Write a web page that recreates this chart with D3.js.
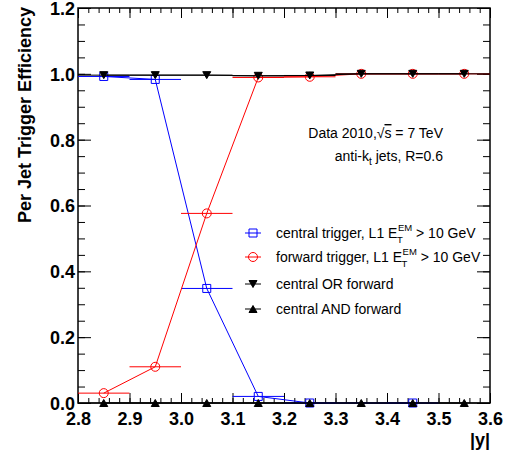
<!DOCTYPE html>
<html lang="en">
<head>
<meta charset="utf-8">
<title>Per Jet Trigger Efficiency</title>
<script src="https://d3js.org/d3.v7.min.js"></script>
<style>
  body { margin: 0; background: #fff; }
  text { font-family: "Liberation Sans", Helvetica, Arial, sans-serif; }
</style>
</head>
<body>
<svg id="chart" width="517" height="457"></svg>
<script>
// bins in |y| (centres), half width 0.05
const bins = [2.85, 2.95, 3.05, 3.15, 3.25, 3.35, 3.45, 3.55];
const halfWidth = 0.05;

// central trigger only has points where drawn
const centralX   = [2.85, 2.95, 3.05, 3.15, 3.25, 3.45];
const centralEff = [0.992, 0.983, 0.348, 0.020, 0.0, 0.0];
const forwardEff = [0.030, 0.110, 0.576, 0.989, 0.991, 1.0, 1.0, 1.0];
const orEff      = [0.996, 0.996, 0.996, 0.994, 0.995, 1.0, 1.0, 1.0];
const andEff     = [0, 0, 0, 0, 0, 0, 0, 0];

const yMajor = [0, 0.2, 0.4, 0.6, 0.8, 1.0, 1.2];
const xMajor = [2.8, 2.9, 3.0, 3.1, 3.2, 3.3, 3.4, 3.5, 3.6];

let svg = d3.select("#chart");
let pLeft = 78, pRight = 490, pTop = 8, pBottom = 403;

let x = d3.scaleLinear().domain([2.8, 3.6]).range([pLeft, pRight]);
let y = d3.scaleLinear().domain([0, 1.2]).range([pBottom, pTop]);

// minor ticks
let xMinor = d3.range(2.8, 3.6001, 0.02).map(v => +v.toFixed(2));
let yMinor = d3.range(0, 1.2001, 0.05).map(v => +v.toFixed(2));

function tickAxis(axis, g) {
  g.call(axis);
  g.select(".domain").remove();
  g.selectAll("line").attr("stroke", "#000").attr("stroke-width", 1);
}

// left axis
tickAxis(d3.axisLeft(y).tickValues(yMinor).tickSize(-7).tickFormat(""), svg.append("g").attr("transform", `translate(${pLeft},0)`));
let gy = svg.append("g").attr("transform", `translate(${pLeft},0)`);
tickAxis(d3.axisLeft(y).tickValues(yMajor).tickSize(-13).tickPadding(3).tickFormat(d3.format(".1f")), gy);
gy.selectAll("text").attr("font-size", 18).attr("font-weight", "bold").attr("fill", "#000").attr("dy", "0.36em");
// right axis
tickAxis(d3.axisRight(y).tickValues(yMinor).tickSize(-7).tickFormat(""), svg.append("g").attr("transform", `translate(${pRight},0)`));
tickAxis(d3.axisRight(y).tickValues(yMajor).tickSize(-13).tickFormat(""), svg.append("g").attr("transform", `translate(${pRight},0)`));
// bottom axis
tickAxis(d3.axisBottom(x).tickValues(xMinor).tickSize(-5).tickFormat(""), svg.append("g").attr("transform", `translate(0,${pBottom})`));
let gx = svg.append("g").attr("transform", `translate(0,${pBottom})`);
tickAxis(d3.axisBottom(x).tickValues(xMajor).tickSize(-10).tickPadding(9).tickFormat(d3.format(".1f")), gx);
gx.selectAll("text").attr("font-size", 18).attr("font-weight", "bold").attr("fill", "#000").attr("dy", "0.71em");
// top axis
tickAxis(d3.axisTop(x).tickValues(xMinor).tickSize(-5).tickFormat(""), svg.append("g").attr("transform", `translate(0,${pTop})`));
tickAxis(d3.axisTop(x).tickValues(xMajor).tickSize(-10).tickFormat(""), svg.append("g").attr("transform", `translate(0,${pTop})`));

// frame
svg.append("rect").attr("x", pLeft).attr("y", pTop).attr("width", pRight - pLeft).attr("height", pBottom - pTop)
  .attr("fill", "none").attr("stroke", "#000").attr("stroke-width", 1.5);

// titles
svg.append("text").attr("x", pRight).attr("y", 446).attr("text-anchor", "end")
  .attr("font-size", 18).attr("font-weight", "bold").text("|y|");
svg.append("text").attr("transform", `translate(31,${pTop - 1}) rotate(-90)`).attr("text-anchor", "end")
  .attr("font-size", 18).attr("font-weight", "bold").text("Per Jet Trigger Efficiency");

// marker shapes
const sq = "M-4,-4H4V4H-4Z";
const triDown = "M-4,-3.5L4,-3.5L0,3.5Z";
const triUp = "M-4,3.5L4,3.5L0,-3.5Z";

function drawSeries(xs, vals, color, marker) {
  let pts = xs.map((b, i) => ({b: b, v: vals[i]}));
  let g = svg.append("g");
  g.selectAll("line.err").data(pts).enter().append("line")
    .attr("x1", d => x(d.b - halfWidth)).attr("x2", d => x(d.b + halfWidth))
    .attr("y1", d => y(d.v)).attr("y2", d => y(d.v))
    .attr("stroke", color).attr("stroke-width", 1);
  g.append("path").datum(pts)
    .attr("d", d3.line().x(d => x(d.b)).y(d => y(d.v)))
    .attr("fill", "none").attr("stroke", color).attr("stroke-width", 1);
  let m = g.selectAll(".m").data(pts).enter();
  if (marker === "circle") {
    m.append("circle").attr("cx", d => x(d.b)).attr("cy", d => y(d.v)).attr("r", 4.5)
      .attr("fill", "none").attr("stroke", color).attr("stroke-width", 1);
  } else {
    let filled = marker !== sq;
    m.append("path").attr("d", marker)
      .attr("transform", d => `translate(${x(d.b)},${y(d.v)})`)
      .attr("fill", filled ? color : "none").attr("stroke", color).attr("stroke-width", 1);
  }
}

drawSeries(centralX, centralEff, "#0000ff", sq);
drawSeries(bins, forwardEff, "#ff0000", "circle");
drawSeries(bins, orEff, "#000", triDown);
drawSeries(bins, andEff, "#000", triUp);

// annotation
let t1 = svg.append("text").attr("x", 443).attr("y", 138).attr("text-anchor", "end").attr("font-size", 14);
t1.append("tspan").text("Data 2010,√");
t1.append("tspan").style("text-decoration", "overline").text("s");
t1.append("tspan").text(" = 7 TeV");
let t2 = svg.append("text").attr("x", 443).attr("y", 161).attr("text-anchor", "end").attr("font-size", 14);
t2.append("tspan").text("anti-k");
t2.append("tspan").attr("font-size", 10).attr("dy", 4).text("t");
t2.append("tspan").attr("dy", -4).text(" jets, R=0.6");

// legend
const legendLabels = ["central trigger, L1 ", "forward trigger, L1 ", "central OR forward", "central AND forward"];
const legendColors = ["#0000ff", "#ff0000", "#000", "#000"];
const legendMarkers = [sq, "circle", triDown, triUp];
const legendRows = [233, 257, 284, 309];

legendLabels.forEach((lab, i) => {
  let cy = legendRows[i], c = legendColors[i];
  svg.append("line").attr("x1", 245).attr("x2", 261).attr("y1", cy).attr("y2", cy)
    .attr("stroke", c).attr("stroke-width", 1);
  if (legendMarkers[i] === "circle") {
    svg.append("circle").attr("cx", 253).attr("cy", cy).attr("r", 4.5)
      .attr("fill", "none").attr("stroke", c);
  } else {
    svg.append("path").attr("d", legendMarkers[i]).attr("transform", `translate(253,${cy})`)
      .attr("fill", legendMarkers[i] === sq ? "none" : c).attr("stroke", c);
  }
  let base = cy + 5;
  let t = svg.append("text").attr("x", 276).attr("y", base).attr("font-size", 14)
    .text(i < 2 ? lab + "E" : lab);
  if (i < 2) {
    // E_T^EM drawn as separate pieces so they don't overlap
    let xe = 276 + t.node().getComputedTextLength() + 0.5;
    svg.append("text").attr("x", xe - 1).attr("y", base + 5).attr("font-size", 9.5).text("T");
    let sup = svg.append("text").attr("x", xe).attr("y", base - 7).attr("font-size", 9.5).text("EM");
    let xr = xe + sup.node().getComputedTextLength();
    svg.append("text").attr("x", xr).attr("y", base).attr("font-size", 14).text(" > 10 GeV")
      .attr("xml:space", "preserve").style("white-space", "pre");
  }
});
</script>
</body>
</html>
